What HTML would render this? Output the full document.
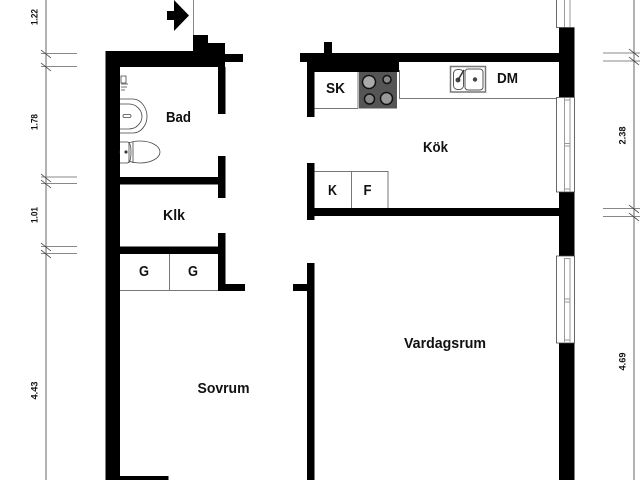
<!DOCTYPE html>
<html><head><meta charset="utf-8"><style>
html,body{margin:0;padding:0;background:#fff}
svg{display:block}
text{font-family:"Liberation Sans",sans-serif;font-weight:bold;fill:#111;text-anchor:middle;font-size:14.5px}
.d{font-size:9.5px}
</style></head><body>
<svg width="640" height="480" viewBox="0 0 640 480" xmlns="http://www.w3.org/2000/svg">
<rect width="640" height="480" fill="#fff"/>
<!-- dimension lines -->
<g stroke="#999" fill="none">
<path d="M46 0V480M634 0V480" stroke-width="1.5"/>
<path d="M41 53.5H77M41 66.5H77M41 177H77M41 183.5H77M41 246.5H77M41 253.5H77M603 53H640M603 61H640M603 208.5H640M603 216.5H640" stroke-width="1" stroke="#888"/>
</g>
<path d="M41 50L51 58M41 63L51 71M41 174L51 182M41 180L51 188M41 243L51 251M41 250L51 258M629 49L639 57M629 57L639 65M629 205L639 213M629 213L639 221" stroke="#333" stroke-width=".8" fill="none"/>
<text class="d" transform="translate(37.500,17) rotate(-90)" textLength="16" lengthAdjust="spacingAndGlyphs">1.22</text>
<text class="d" transform="translate(37.500,122) rotate(-90)" textLength="16" lengthAdjust="spacingAndGlyphs">1.78</text>
<text class="d" transform="translate(37.500,215) rotate(-90)" textLength="16" lengthAdjust="spacingAndGlyphs">1.01</text>
<text class="d" transform="translate(37.500,390.500) rotate(-90)" textLength="18" lengthAdjust="spacingAndGlyphs">4.43</text>
<text class="d" transform="translate(625.500,135.500) rotate(-90)" textLength="18" lengthAdjust="spacingAndGlyphs">2.38</text>
<text class="d" transform="translate(625.500,361.500) rotate(-90)" textLength="18" lengthAdjust="spacingAndGlyphs">4.69</text>
<!-- entrance -->
<path d="M193.500 0V35" stroke="#888" stroke-width="1"/>
<path d="M167 11H174V0L189 15.500L174 31V20H167Z" fill="#000"/>
<!-- cabinets -->
<g fill="none" stroke="#777" stroke-width="1">
<path d="M120 290.500H218M169.500 254V290.500"/>
<path d="M314 108.500H358M358 72V108.500"/>
<path d="M399.500 70V98.500H558"/>
<path d="M314 171.500H388V208M351.500 171.500V208"/>
</g>
<!-- walls -->
<g fill="#000">
<rect x="105.500" y="51" width="14.500" height="429"/>
<rect x="105.500" y="51" width="119.500" height="16"/>
<rect x="193" y="35" width="15" height="16"/>
<rect x="208" y="43" width="17" height="10"/>
<rect x="225" y="54" width="18" height="8"/>
<rect x="218" y="67" width="7.500" height="47"/>
<rect x="218" y="156" width="7.500" height="42"/>
<rect x="120" y="177" width="98" height="7.500"/>
<rect x="120" y="246.500" width="98" height="7.500"/>
<rect x="218" y="233" width="7.500" height="58"/>
<rect x="218" y="284" width="27" height="7"/>
<rect x="120" y="476" width="48.500" height="4"/>
<rect x="300" y="53" width="260" height="9"/>
<rect x="307" y="53" width="92" height="19"/>
<rect x="324" y="42" width="8" height="11"/>
<rect x="307" y="70" width="7.500" height="47"/>
<rect x="307" y="163" width="7.500" height="57"/>
<rect x="314" y="208" width="245" height="8"/>
<rect x="307" y="263" width="7.500" height="217"/>
<rect x="293" y="284" width="14" height="7"/>
<rect x="559" y="27" width="15.500" height="70"/>
<rect x="559" y="192" width="15.500" height="64"/>
<rect x="559" y="343" width="15.500" height="137"/>
</g>
<!-- windows -->
<g fill="#fff" stroke="#444" stroke-width=".8">
<path d="M574.500 -1H556.500V27.500H574.500"/>
<path d="M574.500 97.500H556.500V192H574.500Z"/>
<path d="M574.500 256H556.500V343H574.500Z"/>
</g>
<g fill="none" stroke="#999" stroke-width="1">
<path d="M564.500 0V27M570 0V27M564.500 98V192M570 98V192M564.500 258V342M570 258V342"/>
<path d="M564.500 143.500H570M564.500 146H570M564.500 189H570M564.500 100H570M564.500 258.500H570M564.500 299H570M564.500 302H570M564.500 340H570"/>
</g>
<!-- cooktop -->
<rect x="359" y="72" width="38" height="36.500" fill="#555"/>
<g stroke="#111" stroke-width="1.500">
<circle cx="369" cy="82" r="6.500" fill="#aaa"/>
<circle cx="387" cy="79.500" r="4" fill="#888"/>
<circle cx="369.500" cy="99" r="5" fill="#888"/>
<circle cx="386.500" cy="98.500" r="6" fill="#999"/>
</g>
<!-- sink -->
<rect x="450.500" y="66.500" width="35" height="25.500" fill="none" stroke="#777" stroke-width="1.500"/>
<rect x="453.500" y="69.500" width="10" height="20" rx="4" fill="#fff" stroke="#555" stroke-width="1"/>
<rect x="465" y="69" width="18" height="21" rx="3" fill="#fff" stroke="#555" stroke-width="1"/>
<circle cx="458" cy="80" r="2.500" fill="#444"/>
<circle cx="475" cy="79.500" r="2.200" fill="#444"/>
<path d="M458 80L464 70" stroke="#333" stroke-width="1.500"/>
<!-- bath fixtures -->
<g fill="#fff" stroke="#444" stroke-width=".8">
<path d="M120 99H133C141 99 147 108 147 116.500C147 125 141 133 133 133H120"/>
<path d="M120 104H129C136 104 142 110 142 116.500C142 123 136 129 129 129H120" fill="none"/>
<rect x="123" y="114.500" width="8" height="3" rx="1.500"/>
<ellipse cx="140" cy="152" rx="20" ry="11"/>
<path d="M120 142H127C130 142 131 146 131 152C131 158 130 163 127 163H120"/>
<path d="M129 142V163M133 142V163"/>
<circle cx="126" cy="152" r="1.200" fill="#333"/>
<path d="M121 76H126V83H121ZM121 84H128M121 87H127M121 90H125"/>
</g>
<!-- labels -->
<text x="178.500" y="122" textLength="25" lengthAdjust="spacingAndGlyphs">Bad</text>
<text x="174" y="220" textLength="22" lengthAdjust="spacingAndGlyphs">Klk</text>
<text x="144" y="276" textLength="10" lengthAdjust="spacingAndGlyphs">G</text>
<text x="193" y="276" textLength="10" lengthAdjust="spacingAndGlyphs">G</text>
<text x="223.500" y="393" textLength="52" lengthAdjust="spacingAndGlyphs">Sovrum</text>
<text x="435.500" y="152" textLength="25" lengthAdjust="spacingAndGlyphs">Kök</text>
<text x="445" y="348" textLength="82" lengthAdjust="spacingAndGlyphs">Vardagsrum</text>
<text x="335.500" y="93" textLength="19" lengthAdjust="spacingAndGlyphs">SK</text>
<text x="332.500" y="195" textLength="9" lengthAdjust="spacingAndGlyphs">K</text>
<text x="367.500" y="195" textLength="8" lengthAdjust="spacingAndGlyphs">F</text>
<text x="507.500" y="83" textLength="21" lengthAdjust="spacingAndGlyphs">DM</text>
</svg>
</body></html>
